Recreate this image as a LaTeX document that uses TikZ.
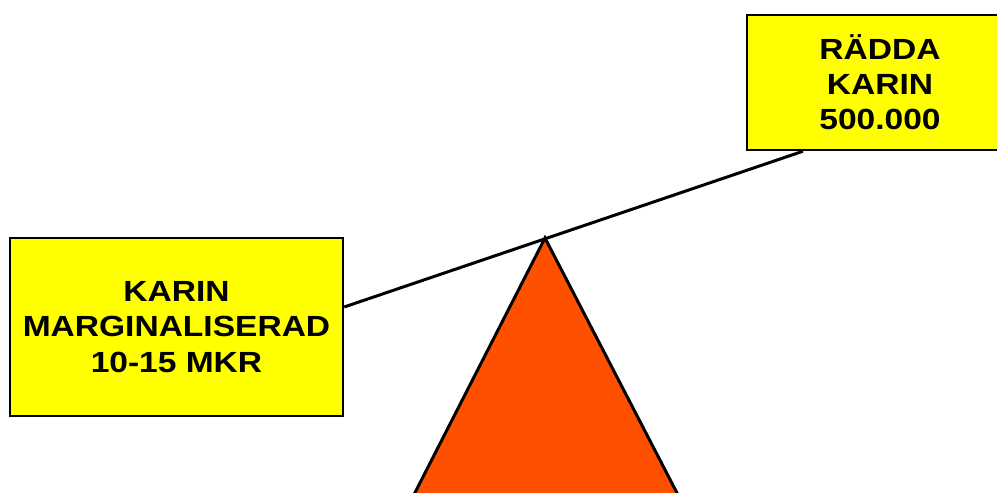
\documentclass[tikz,border=0pt]{standalone}
\usepackage{fontspec}
\setmainfont{Liberation Sans}[FakeStretch=1.15]
\definecolor{boxyellow}{RGB}{255,255,0}
\definecolor{fulcrum}{RGB}{255,80,0}

\begin{document}
\begin{tikzpicture}[x=0.02cm,y=-0.02cm,
  weightbox/.style={draw,line width=1.4pt,fill=boxyellow,align=center,inner sep=0pt,
    font=\fontsize{16.6}{20}\selectfont\bfseries}]
  \useasboundingbox (0,0) rectangle (997,493);
  \clip (0,0) rectangle (997,493);
  % fulcrum
  \coordinate (pivot) at (545,238);
  \filldraw[fill=fulcrum,line width=1.7pt,line join=miter] (pivot) -- (401,520) -- (691,520) -- cycle;
  % the two weights
  \node[weightbox,minimum width=6.66cm,minimum height=3.56cm] (karin) at (176.5,327) {KARIN\\MARGINALISERAD\\10-15 MKR};
  \node[weightbox,minimum width=5.32cm,minimum height=2.7cm] (radda) at (880,82.5) {RÄDDA\\KARIN\\500.000};
  % beam
  \coordinate (beamL) at (karin.east |- 0,307);
  \coordinate (beamR) at (radda.south -| 803,0);
  \draw[line width=1.7pt] (beamL) -- (beamR);
\end{tikzpicture}
\end{document}
